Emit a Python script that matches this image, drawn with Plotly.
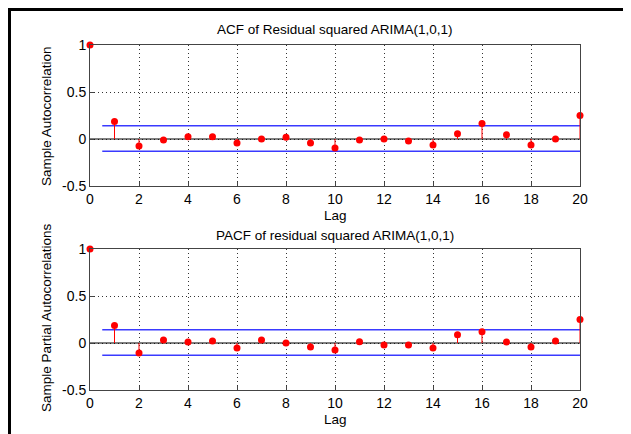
import plotly.graph_objects as go

lags = list(range(21))
acf_vals = [1.0, 0.187, -0.074, -0.011, 0.025, 0.025, -0.042, 0.0, 0.018, -0.042,
            -0.095, -0.011, 0.0, -0.021, -0.064, 0.057, 0.166, 0.046, -0.064, 0.0, 0.25]
pacf_vals = [1.0, 0.187, -0.106, 0.032, 0.011, 0.021, -0.053, 0.032, 0.0, -0.042,
             -0.074, 0.014, -0.021, -0.021, -0.053, 0.088, 0.12, 0.011, -0.042, 0.021, 0.251]
upper_bound = 0.14
lower_bound = -0.13
bound_x = [0.5, 20]
x_ticks = [0, 2, 4, 6, 8, 10, 12, 14, 16, 18, 20]
y_ticks = [-0.5, 0, 0.5, 1]
y_tick_text = ["-0.5", "0", "0.5", "1"]

# page body has an 8px default margin, so the figure is drawn 8px in
OFF = 8
W, H = 631 - OFF, 434 - OFF
FONT = "Liberation Sans, Arial, sans-serif"

fig = go.Figure()

def add_panel(vals, xa, ya):
    sx, sy = [], []
    for lag, v in zip(lags, vals):
        if lag == 0:
            continue  # hidden under the left axis line
        sx += [lag, lag, None]
        sy += [0, v, None]
    fig.add_trace(go.Scatter(x=[0, 20], y=[0, 0], mode="lines",
                             line=dict(color="black", width=1.2),
                             xaxis=xa, yaxis=ya, hoverinfo="skip"))
    fig.add_trace(go.Scatter(x=bound_x, y=[upper_bound] * 2, mode="lines",
                             line=dict(color="#3a3aff", width=1.5),
                             xaxis=xa, yaxis=ya))
    fig.add_trace(go.Scatter(x=bound_x, y=[lower_bound] * 2, mode="lines",
                             line=dict(color="#3a3aff", width=1.5),
                             xaxis=xa, yaxis=ya))
    fig.add_trace(go.Scatter(x=sx, y=sy, mode="lines",
                             line=dict(color="red", width=1),
                             xaxis=xa, yaxis=ya))
    fig.add_trace(go.Scatter(x=lags, y=vals, mode="markers",
                             marker=dict(color="red", size=7),
                             cliponaxis=False, xaxis=xa, yaxis=ya))

add_panel(acf_vals, "x", "y")
add_panel(pacf_vals, "x2", "y2")

def px_x(p):
    return (p - OFF) / W

def px_y(p):
    return 1 - (p - OFF) / H

axis_common = dict(
    showline=True, mirror=True, linecolor="#444444", linewidth=1,
    showgrid=True, gridcolor="#333333", griddash="1px,3px", gridwidth=1,
    zeroline=False, ticks="inside", ticklen=4, tickcolor="#444444",
    tickfont=dict(family=FONT, size=14, color="black"),
    automargin=False,
)

xdom = [px_x(90), px_x(580)]
fig.update_layout(
    template="none",
    width=W, height=H, margin=dict(l=0, r=0, t=0, b=0, pad=0),
    paper_bgcolor="white", plot_bgcolor="white", showlegend=False,
    xaxis=dict(domain=xdom, range=[0, 20], tickvals=x_ticks, anchor="y", **axis_common),
    yaxis=dict(domain=[px_y(186), px_y(45)], range=[-0.5, 1], tickvals=y_ticks,
               ticktext=y_tick_text, anchor="x", **axis_common),
    xaxis2=dict(domain=xdom, range=[0, 20], tickvals=x_ticks, anchor="y2", **axis_common),
    yaxis2=dict(domain=[px_y(390), px_y(249)], range=[-0.5, 1], tickvals=y_ticks,
                ticktext=y_tick_text, anchor="x2", **axis_common),
)

annots = [
    dict(text="ACF of Residual squared ARIMA(1,0,1)", x=px_x(335), y=px_y(30)),
    dict(text="Lag", x=px_x(335), y=px_y(216)),
    dict(text="PACF of residual squared ARIMA(1,0,1)", x=px_x(335), y=px_y(235)),
    dict(text="Lag", x=px_x(335), y=px_y(419)),
    dict(text="Sample Autocorrelation", x=px_x(46), y=px_y(116), textangle=-90),
    dict(text="Sample Partial Autocorrelations", x=px_x(46), y=px_y(318), textangle=-90),
]
for a in annots:
    fig.add_annotation(xref="paper", yref="paper", showarrow=False,
                       xanchor="center", yanchor="middle",
                       font=dict(family=FONT, size=13.5, color="black"), **a)

# outer frame (top and left border)
fig.add_shape(type="line", xref="paper", yref="paper",
              x0=0, x1=1.0, y0=1 - 1.5 / H, y1=1 - 1.5 / H,
              line=dict(color="black", width=3))
fig.add_shape(type="line", xref="paper", yref="paper",
              x0=1.5 / W, x1=1.5 / W, y0=1, y1=0,
              line=dict(color="black", width=3))

fig.write_html("out.html")
